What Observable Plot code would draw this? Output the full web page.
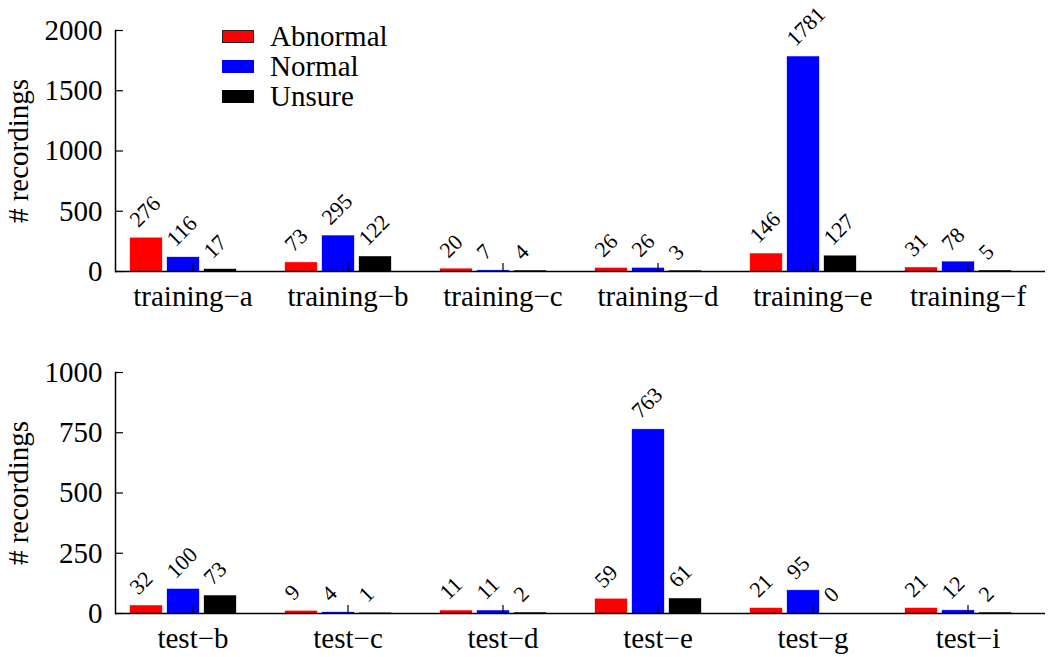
<!DOCTYPE html>
<html><head><meta charset="utf-8">
<script src="https://cdn.jsdelivr.net/npm/d3@7"></script>
<script src="https://cdn.jsdelivr.net/npm/@observablehq/plot@0.6"></script>
<style>
body{margin:0;background:#fff;font-family:'Liberation Serif',serif;}
#wrap{position:relative;width:1050px;height:657px;font-family:'Liberation Serif',serif;}
#wrap svg{display:block;}
.legend{position:absolute;left:222px;top:21px;font-size:29px;line-height:30px;color:#000;font-family:'Liberation Serif',serif;}
.item{display:flex;align-items:center;height:30px;}
.sw{width:32px;height:13px;margin-right:16px;box-sizing:border-box;}
</style></head><body><div id="wrap"></div>
<script>
const series = ["Abnormal", "Normal", "Unsure"];
const colors = ["#ff0000", "#0000ff", "#000000"];

const trainGroups = ["training−a", "training−b", "training−c", "training−d", "training−e", "training−f"];
const trainAbnormal = [276, 73, 20, 26, 146, 31];
const trainNormal = [116, 295, 7, 26, 1781, 78];
const trainUnsure = [17, 122, 4, 3, 127, 5];
const trainTicks = [0, 500, 1000, 1500, 2000];

const testGroups = ["test−b", "test−c", "test−d", "test−e", "test−g", "test−i"];
const testAbnormal = [32, 9, 11, 59, 21, 21];
const testNormal = [100, 4, 11, 763, 95, 12];
const testUnsure = [73, 1, 2, 61, 0, 2];
const testTicks = [0, 250, 500, 750, 1000];

function longData(groups, cols) {
  const out = [];
  groups.forEach((g, i) => cols.forEach((c, j) => out.push({group: g, series: series[j], value: c[i]})));
  return out;
}

const FONT = "Liberation Serif";

function chart(groups, cols, ticks, height, marginTop, marginBottom) {
  const data = longData(groups, cols);
  return Plot.plot({
    width: 1050, height, marginTop, marginBottom, marginLeft: 115, marginRight: 5,
    style: {fontFamily: FONT, fontSize: "29px", background: "white", color: "black", overflow: "visible"},
    fx: {domain: groups, padding: 0, label: null},
    x: {domain: series, range: [130, 236], paddingInner: 5 / 37, paddingOuter: 0, axis: null},
    y: {domain: [ticks[0], ticks[ticks.length - 1]], axis: null},
    color: {domain: series, range: colors},
    marks: [
      Plot.barY(data, {fx: "group", x: "series", y: "value", fill: "series", stroke: "series", strokeWidth: 0.6, strokeOpacity: 0.5}),
      Plot.ruleY([0], {stroke: "black", strokeWidth: 1.5}),
      Plot.frame({anchor: "left", facetAnchor: "left", stroke: "black", strokeWidth: 1.5}),
      Plot.axisFx({anchor: "bottom", tickSize: -8, tickPadding: 22, label: null, fontSize: 29, fontFamily: FONT, strokeWidth: 1.2}),
      Plot.axisY({ticks, anchor: "left", tickSize: -8, tickPadding: 21, fontSize: 29, fontFamily: FONT, strokeWidth: 1.2,
        tickFormat: d => String(d),
        label: "# recordings", labelAnchor: "center", labelArrow: "none", labelOffset: 108}),
      Plot.text(data, {fx: "group", x: "series", y: "value", text: d => String(d.value),
        rotate: -45, textAnchor: "start", lineAnchor: "bottom", dx: -8, dy: -10, fontSize: 22, fontFamily: FONT, fill: "black"})
    ]
  });
}

const wrap = document.getElementById("wrap");
wrap.appendChild(chart(trainGroups, [trainAbnormal, trainNormal, trainUnsure], trainTicks, 330, 30, 59));
wrap.appendChild(chart(testGroups, [testAbnormal, testNormal, testUnsure], testTicks, 327, 42, 44));

const legend = document.createElement("div");
legend.className = "legend";
series.forEach((s, i) => {
  const item = document.createElement("div");
  item.className = "item";
  const sw = document.createElement("div");
  sw.className = "sw";
  sw.style.background = colors[i];
  if (i === 0) sw.style.border = "1px solid #222";
  const t = document.createElement("span");
  t.textContent = s;
  item.appendChild(sw);
  item.appendChild(t);
  legend.appendChild(item);
});
wrap.appendChild(legend);
</script></body></html>
